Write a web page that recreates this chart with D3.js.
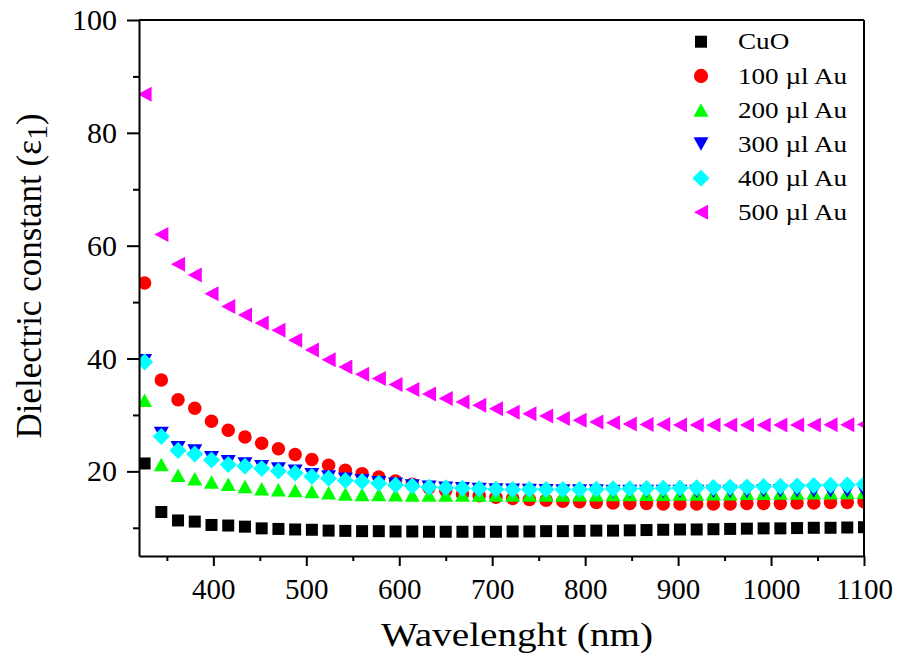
<!DOCTYPE html>
<html>
<head>
<meta charset="utf-8">
<script src="https://cdn.jsdelivr.net/npm/d3@7"></script>
<style>
  body { margin: 0; background: #fff; }
  svg { display: block; }
  svg text { font-family: 'Liberation Serif', 'Times New Roman', serif; }
</style>
</head>
<body>
<div id="chart"></div>
<script>
// wavelengths (nm)
const wavelength = [326, 344, 362, 380, 398, 416, 434, 452, 470, 488, 506, 524, 542, 560, 578,
  596, 614, 632, 650, 668, 686, 704, 722, 740, 758, 776, 794, 812, 830, 848, 866, 884, 902,
  920, 938, 956, 974, 992, 1010, 1028, 1046, 1064, 1082, 1100];

const cuo = [21.4, 12.8, 11.3, 11.1, 10.5, 10.4, 10.2, 9.9, 9.8, 9.7,
  9.65, 9.5, 9.45, 9.4, 9.4, 9.35, 9.35, 9.3, 9.3, 9.3,
  9.3, 9.3, 9.35, 9.35, 9.4, 9.4, 9.45, 9.5, 9.5, 9.55,
  9.6, 9.65, 9.7, 9.7, 9.75, 9.8, 9.85, 9.9, 9.9, 9.95,
  10.0, 10.0, 10.05, 10.1];
const au100 = [53.4, 36.2, 32.7, 31.2, 28.9, 27.3, 26.1, 25.0, 24.0, 23.0,
  22.1, 21.1, 20.2, 19.6, 19.0, 18.3, 17.7, 17.1, 16.6, 16.0,
  15.7, 15.4, 15.2, 15.0, 14.9, 14.7, 14.6, 14.5, 14.4, 14.3,
  14.3, 14.2, 14.2, 14.2, 14.2, 14.2, 14.3, 14.3, 14.3, 14.4,
  14.4, 14.5, 14.5, 14.6];
const au200 = [32.6, 21.2, 19.3, 18.7, 18.1, 17.7, 17.3, 16.9, 16.75, 16.6,
  16.45, 16.2, 16.0, 15.9, 15.9, 15.85, 15.8, 15.8, 15.8, 15.8,
  15.8, 15.8, 15.8, 15.8, 15.8, 15.8, 15.85, 15.85, 15.9, 15.9,
  15.95, 15.95, 16.0, 16.0, 16.05, 16.05, 16.1, 16.1, 16.15, 16.15,
  16.2, 16.2, 16.25, 16.3];
const au300 = [39.6, 26.7, 24.2, 23.6, 22.4, 21.7, 21.3, 20.8, 20.4, 20.0,
  19.4, 19.0, 18.6, 18.3, 18.0, 17.7, 17.4, 17.2, 17.0, 16.9,
  16.8, 16.7, 16.65, 16.6, 16.55, 16.5, 16.5, 16.5, 16.45, 16.45,
  16.45, 16.45, 16.45, 16.45, 16.45, 16.45, 16.45, 16.5, 16.5, 16.5,
  16.5, 16.5, 16.5, 16.5];
const au400 = [39.4, 26.2, 23.7, 23.1, 22.0, 21.2, 20.9, 20.5, 20.05, 19.7,
  19.1, 18.8, 18.4, 18.2, 17.9, 17.6, 17.4, 17.2, 17.1, 17.0,
  16.9, 16.85, 16.8, 16.8, 16.8, 16.8, 16.8, 16.85, 16.9, 16.9,
  16.95, 17.0, 17.05, 17.1, 17.15, 17.2, 17.25, 17.3, 17.35, 17.4,
  17.5, 17.55, 17.6, 17.7];
const au500 = [86.85, 62.0, 56.7, 54.8, 51.5, 49.2, 47.7, 46.3, 45.0, 43.25,
  41.5, 39.8, 38.5, 37.2, 36.45, 35.4, 34.5, 33.7, 32.9, 32.3,
  31.7, 31.1, 30.5, 30.2, 29.8, 29.35, 29.05, 28.75, 28.6, 28.4,
  28.3, 28.3, 28.2, 28.2, 28.2, 28.2, 28.2, 28.2, 28.2, 28.2,
  28.2, 28.25, 28.25, 28.3];

const seriesNames = ['CuO', '100 \u00b5l Au', '200 \u00b5l Au', '300 \u00b5l Au', '400 \u00b5l Au', '500 \u00b5l Au'];
const seriesValues = [cuo, au100, au200, au300, au400, au500];
const seriesColors = ['#000000', '#ff0000', '#00ff00', '#0000ff', '#00ffff', '#ff00ff'];

const xTicks = [400, 500, 600, 700, 800, 900, 1000, 1100];
const xMinor = [350, 450, 550, 650, 750, 850, 950, 1050];
const yTicks = [20, 40, 60, 80, 100];
const yMinor = [10, 30, 50, 70, 90];

const serif = "'Liberation Serif', 'Times New Roman', serif";

// marker shapes, centred on their bounding box
const square = { draw(c, s) { const h = s / 2; c.rect(-h, -h, s, s); } };
const circle = { draw(c, s) { c.moveTo(s / 2, 0); c.arc(0, 0, s / 2, 0, 2 * Math.PI); } };
const triUp = { draw(c, s) { const w = s / 2, h = s * 0.45; c.moveTo(0, -h); c.lineTo(w, h); c.lineTo(-w, h); c.closePath(); } };
const triDown = { draw(c, s) { const w = s / 2, h = s * 0.45; c.moveTo(0, h); c.lineTo(w, -h); c.lineTo(-w, -h); c.closePath(); } };
const diamond = { draw(c, s) { const h = s / 2; c.moveTo(0, -h); c.lineTo(h, 0); c.lineTo(0, h); c.lineTo(-h, 0); c.closePath(); } };
const triLeft = { draw(c, s) { const w = s * 0.47, h = s / 2; c.moveTo(-w, 0); c.lineTo(w, -h); c.lineTo(w, h); c.closePath(); } };
const shapes = [square, circle, triUp, triDown, diamond, triLeft];
const sizes = [12, 13.5, 15, 15, 17, 15];

const width = 901, height = 657;
const margin = { top: 20, right: 37, bottom: 101, left: 139 };
const w = width - margin.left - margin.right;
const h = height - margin.top - margin.bottom;

const x = d3.scaleLinear().domain([320, 1100]).range([0, w]);
const y = d3.scaleLinear().domain([5, 100]).range([h, 0]);

const svg = d3.select('#chart').append('svg')
  .attr('width', width)
  .attr('height', height);

const g = svg.append('g')
  .attr('transform', 'translate(' + margin.left + ',' + margin.top + ')');

g.append('clipPath').attr('id', 'plotClip')
  .append('rect').attr('width', w).attr('height', h);

// series
const plot = g.append('g').attr('clip-path', 'url(#plotClip)');
seriesValues.forEach((vals, k) => {
  const sym = d3.symbol().type(shapes[k]).size(sizes[k]);
  plot.append('g')
    .selectAll('path')
    .data(vals)
    .enter()
    .append('path')
    .attr('d', sym)
    .attr('fill', seriesColors[k])
    .attr('transform', (d, i) => 'translate(' + x(wavelength[i]) + ',' + y(d) + ')');
});

// axes
const xAxis = g.append('g')
  .attr('transform', 'translate(0,' + h + ')')
  .call(d3.axisBottom(x).tickValues(xTicks).tickFormat(d3.format('d'))
    .tickSize(10).tickPadding(12).tickSizeOuter(0));
g.append('g')
  .attr('transform', 'translate(0,' + h + ')')
  .call(d3.axisBottom(x).tickValues(xMinor).tickSize(5).tickFormat('').tickSizeOuter(0))
  .select('.domain').remove();
const yAxis = g.append('g')
  .call(d3.axisLeft(y).tickValues(yTicks).tickSize(12).tickPadding(10).tickSizeOuter(0));
g.append('g')
  .call(d3.axisLeft(y).tickValues(yMinor).tickSize(6).tickFormat('').tickSizeOuter(0))
  .select('.domain').remove();

g.selectAll('.tick line').attr('stroke', '#000').attr('stroke-width', 2);
g.selectAll('.domain').attr('stroke', '#000').attr('stroke-width', 2);
xAxis.selectAll('text').attr('font-size', 29).attr('fill', '#000').attr('font-family', serif);
yAxis.selectAll('text').attr('font-size', 30).attr('fill', '#000').attr('font-family', serif);

// frame top and right
g.append('line').attr('x1', 0).attr('x2', w).attr('y1', 0).attr('y2', 0)
  .attr('stroke', '#000').attr('stroke-width', 2);
g.append('line').attr('x1', w).attr('x2', w).attr('y1', 0).attr('y2', h)
  .attr('stroke', '#000').attr('stroke-width', 2);

// axis titles
svg.append('text')
  .attr('x', 517)
  .attr('y', 646)
  .attr('text-anchor', 'middle')
  .attr('font-family', serif)
  .attr('font-size', 34)
  .attr('textLength', 272)
  .attr('lengthAdjust', 'spacingAndGlyphs')
  .text('Wavelenght (nm)');

const yTitle = svg.append('text')
  .attr('transform', 'translate(41,276) rotate(-90)')
  .attr('text-anchor', 'middle')
  .attr('font-family', serif)
  .attr('font-size', 35);
yTitle.append('tspan').text('Dielectric constant (\u03b5');
yTitle.append('tspan').attr('font-size', 30).attr('dy', 6).text('1');
yTitle.append('tspan').attr('dy', -6).text(')');

// legend
const legend = svg.append('g');
const legendY = [41.7, 76, 110, 144, 178.3, 212.3];
seriesNames.forEach((name, k) => {
  const row = legend.append('g').attr('transform', 'translate(0,' + legendY[k] + ')');
  row.append('path')
    .attr('d', d3.symbol().type(shapes[k]).size(sizes[k] * (k === 1 ? 1.05 : 1)))
    .attr('fill', seriesColors[k])
    .attr('transform', 'translate(701,0)');
  row.append('text')
    .attr('transform', 'translate(738,0) scale(1.18,1)')
    .attr('dy', '0.33em')
    .attr('font-family', serif)
    .attr('font-size', 23)
    .text(name);
});
</script>
</body>
</html>
